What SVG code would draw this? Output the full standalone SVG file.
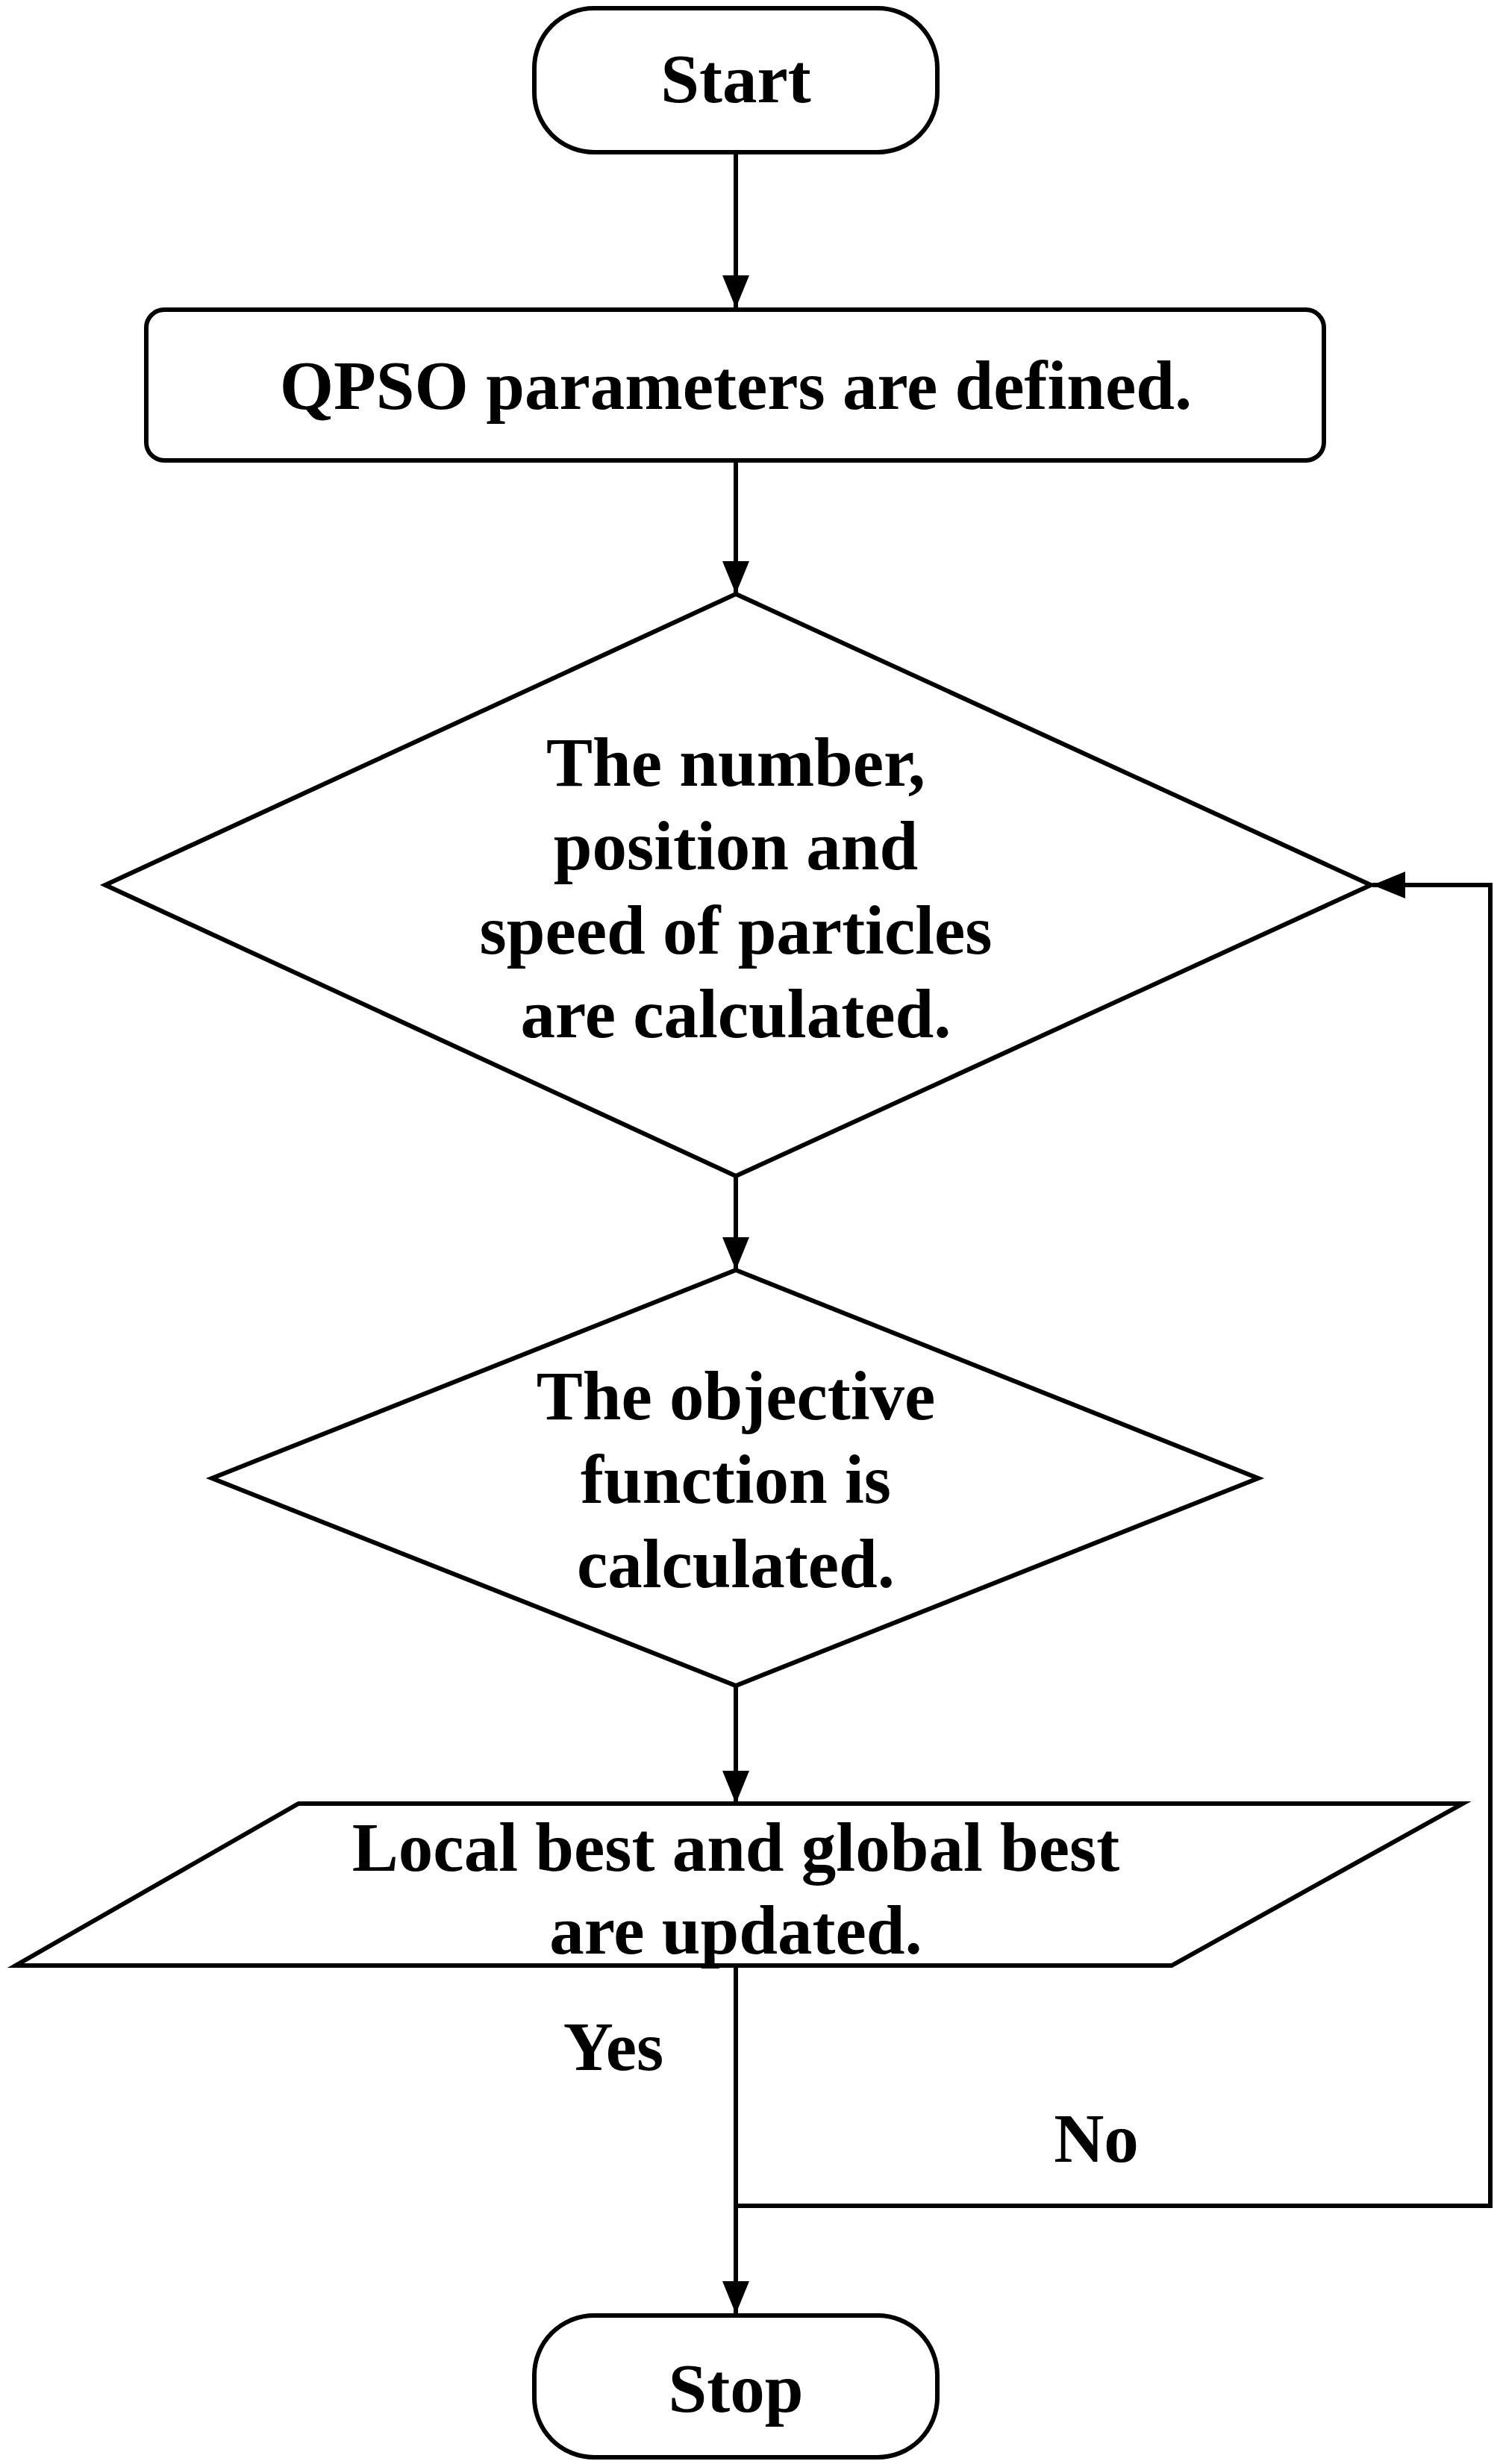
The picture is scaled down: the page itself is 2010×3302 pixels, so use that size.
<svg xmlns="http://www.w3.org/2000/svg" width="2010" height="3302" viewBox="0 0 2010 3302">
<style>
.s{fill:#fff;stroke:#000;stroke-width:6}
.c{fill:none;stroke:#000;stroke-width:6}
text{font-family:"Liberation Serif",serif;font-weight:bold;font-size:93px;text-anchor:middle;fill:#000}
</style>
<defs><marker id="a" markerUnits="userSpaceOnUse" markerWidth="50" markerHeight="40" refX="44" refY="18" orient="auto"><path d="M0,0 L44,18 L0,36 Z" fill="#000"/></marker></defs>
<rect width="2010" height="3302" fill="#fff"/>
<g id="connectors">
<line class="c" x1="986" y1="204" x2="986" y2="413" marker-end="url(#a)"/>
<line class="c" x1="986" y1="617" x2="986" y2="796" marker-end="url(#a)"/>
<line class="c" x1="986" y1="1576" x2="986" y2="1702" marker-end="url(#a)"/>
<line class="c" x1="986" y1="2259" x2="986" y2="2417" marker-end="url(#a)"/>
<line class="c" x1="986" y1="2634" x2="986" y2="3101" marker-end="url(#a)"/>
<polyline class="c" points="986,2956 1997,2956 1997,1186 1839,1186" marker-end="url(#a)"/>
<text x="822" y="2774">Yes</text>
<text x="1469" y="2897">No</text>
</g>
<g id="start"><rect class="s" x="716" y="11" width="540" height="193" rx="80"/><text x="986" y="137">Start</text></g>
<g id="params"><rect class="s" x="196" y="415" width="1578" height="202" rx="24"/><text x="986" y="548">QPSO parameters are defined.</text></g>
<g id="calc"><polygon class="s" points="986,796 1837,1186 986,1576 141,1186"/>
<text x="986" y="1053">The number,</text><text x="986" y="1165">position and</text><text x="986" y="1278">speed of particles</text><text x="986" y="1390">are calculated.</text></g>
<g id="objective"><polygon class="s" points="986,1702 1686,1981 986,2259 284,1981"/>
<text x="986" y="1902">The objective</text><text x="986" y="2014">function is</text><text x="986" y="2127">calculated.</text></g>
<g id="update"><polygon class="s" points="400,2417 1960,2417 1570,2634 21,2634"/>
<text x="986" y="2507">Local best and global best</text><text x="986" y="2618">are updated.</text></g>
<g id="stop"><rect class="s" x="716" y="3103" width="540" height="190" rx="80"/><text x="986" y="3232">Stop</text></g>
</svg>
